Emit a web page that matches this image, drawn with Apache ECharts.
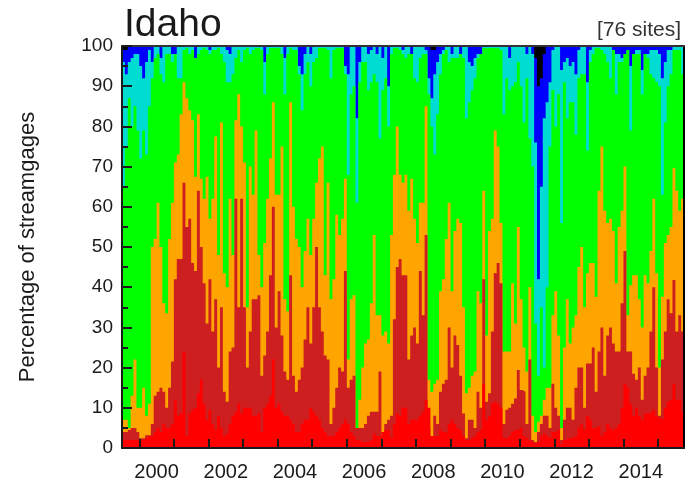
<!DOCTYPE html>
<html><head><meta charset="utf-8">
<style>html,body{margin:0;padding:0;background:#fff}#c{width:694px;height:483px}</style>
<script src="https://cdn.jsdelivr.net/npm/echarts@6/dist/echarts.min.js"></script>
</head><body><div id="c"></div>
<script>
// Percentage of streamgages at or below each class limit, monthly, Jul 1999 - Sep 2015.
const redTop = [2,2,2,2,2,2,
2,2,2.5,3,3,4,5,4,6,5,5,6,
12,8,8.6,24,3,8.6,9.5,10,13.6,17,11,7,
9.5,6,4.5,8,5,3,3.6,6,8,9,11,8.6,
10,10,10,8,8,8.6,4,10,11,13,22,10,
11,9,8,8,7,6,4,4,6,7,7,10,
9,8,7,5,4,3,3,3,4,5,6,7,
6,4,3,2,2,1.5,1.5,1.5,2,3.6,3,3,
4,4.5,4.5,2.5,6,8.6,8,10,10,6,7,7,
7,8,9,12,10,3,3,3,4.5,4,3.6,6,
7,6,5,4.5,3,2,2,2.5,3,4,4.5,16,
7,8,11,11.5,11,10,2.5,2.5,3,4,4.5,4.5,
5,3,2.5,2,1.5,1,1.5,3,3.6,3,2.5,4,
4,4.5,1,2,2.4,2.5,2.5,3,5,6,4.5,8,
7,5,5,5.5,3,4,6,5,4.5,5,6,10,
16,15,11,8,10,8,7,8.6,8.6,9,9.5,8,
7.4,7,10,11.5,12,16,12,12,9];
const brickTop = [4,4,4.5,5,5,4,
2.4,2.4,3.2,3.2,6,13,14,15,14,10,15,21.5,
42,47,47,66,55,57,46,44,64,50,41,31,
42,29,37,20,35,14,11.5,24,25,62,35,62,
35,20,29,37,37,38,18,23,29,43,60,30,
39,28,19,17,43,18,14,17,20,27,35,26,
35,50,35,29,23,22,6,10,15,20,19,44,
15,17,18,5,5,5,6,8,9,9,9,19,
3,6,7,8,32,45,47,43,43,22,28,30,
26,44,33,53,5,3,8,6,14,16,17,30,
20,28,25.6,18,8.6,2.4,7,7,5,14,10,42,
11.5,13.6,29,43.5,46,41,6,9.5,10,11,12.3,19.4,
14.4,14,6,22,2,1.5,4,6,8,8,5,16,
10,8,2,7,10,10,7,15,20,20,10,21,
21,25,14,24,30,18,28,30,26,24,24,36,
49,24,24,18.5,17,20,12,18,20,29,40,20,
8,22,29,37,33.5,41.8,29,33,29];
const orangeTop = [7,7,5,13,22,10,
10,15,8,11,50,52,61,50,36,33.5,52,61,
71,73,83,91,87,84,81.5,67.5,83,67,62,67.5,
57,62,77.5,48,81,43.5,40,62,48,81.5,88,80,
71,35,70,63,79,48,40,51,62,72,86,63,
63,75,37,34,86,60,52,50,40,49,57,48,
57,66,72,75,43,66,37,42,58,53,57,67,
22,37,38,3,12,20,26,27,36,53,33,33,
28,29,26,53,68,80,68,66,68,59,67,57,
51,61,61,85,17,14,16,17,39,42,52,61,
39,54,57,56,35,13.6,15,18,19,39,36,64,
28,54,57,79,75,56,24,24,24,41,31,55,
37,25,19,40,8,4,6.5,8,12,15,15,33,
39,28,5,25,37,26,30,33,45,50,35,43.5,
46,46,37.6,64,75,59,56,57,54,41,55,59,
70,33,40.5,43,43,37,30,43,41,49,62,43.5,
20,37.6,51,53,55,69.6,64,59,62];
const greenTop = [65,75,87,80,85,79,
72,79,73,85,92,97,98,93,91,98,98,96,
98,92,92,99,99.5,98,99,97,98,99,99.5,99,
98,99,99,99.5,98,96,91,91,93,97,99,96,
99,99.5,98,99,99.5,99.5,99,88,98,99.5,99.5,99.5,
99.5,98,88,98,99.5,99,99,93,84,93,96,90,
96,97,99.5,99.5,99.5,99,92,99,99.5,99.5,99.5,93,
68,88,90,61,91,96,96,89,91,93,91,77,
89,92,80,98,99.5,99.5,99,98,97,98,98,92,
91,97,98,98,88,80,73,83,93,98,99,96,
97,97,97,98,97,82,86,89,92,97,98,99.5,
99.5,99.5,99.5,99.5,99.5,99,83,92,89,90,91,96,
90,81,92,77,70,31,18,35,20,40,75,89,
80,88,56,91,82,86,86,78,92,93,93,74,
96,98,99.5,99.5,99,98,96,92,99,88,96,96,
98,99,79,98,98,98,88,98,97,93,92,91,
90,63,81,90,93,99,99,99,93];
const cyanTop = [96,93,96,97,98,98,
95,92,96,99,96,100,100,97,100,100,100,98,
98,100,100,100,100,100,100,97,100,100,100,100,
99,100,100,100,100,100,99,98,100,100,100,100,
100,100,100,100,100,100,100,96,100,100,100,100,
100,100,97,100,100,100,100,95,93,98,100,98,
100,100,100,100,100,100,100,100,100,100,100,95,
93,100,100,82,96,100,100,98,99,100,98,100,
97,100,90,100,100,100,100,99,100,100,98,100,
100,100,100,99,92,87,93,96,98,99,100,100,
98,100,100,98,100,100,96,95,97,98,98,100,
100,100,100,100,100,100,100,100,97,100,100,100,
100,100,98,100,98,76,42,65,82,86,91,99,
100,100,94,96,97,95,96,93,99,100,100,91,
99,100,100,100,100,100,100,100,99,98,98,97,
98,99,95,98,99,99,94,98,98,99,99,99,
98,92,96,99,99,100,100,100,100];
const blueTop = [99,99,100,100,100,100,
100,100,100,100,100,100,100,100,100,100,100,100,
100,100,100,100,100,100,100,100,100,100,100,100,
100,100,100,100,100,100,100,100,100,100,100,100,
100,100,100,100,100,100,100,100,100,100,100,100,
100,100,100,100,100,100,100,100,100,100,100,100,
100,100,100,100,100,100,100,100,100,100,100,100,
100,100,100,100,100,100,100,100,100,100,100,100,
100,100,100,100,100,100,100,100,100,100,100,100,
100,100,100,100,100,99,99,100,100,100,100,100,
100,100,100,100,100,100,100,100,100,100,100,100,
100,100,100,100,100,100,100,100,100,100,100,100,
100,100,100,100,100,97,90,92,98,100,100,100,
100,100,100,100,100,100,100,100,100,100,100,100,
100,100,100,100,100,100,100,100,100,100,100,100,
100,100,100,100,100,100,100,100,100,100,100,100,
100,100,100,100,100,100,100,100,100];
const labelYears = [2000,2002,2004,2006,2008,2010,2012,2014];
const yTicks = [0,100];

// Month categories; one closing slot so the last month keeps its width on the step line.
const months = [];
for (let y = 1999, m = 7; months.length < redTop.length + 1; m++) {
  if (m > 12) { m = 1; y++; }
  months.push(y + '-' + String(m).padStart(2, '0'));
}
const closed = a => a.concat(a[a.length - 1]);
const ink = '#1a1a1a';
const font = '"Liberation Sans", Arial, sans-serif';
const layer = (name, data, color) => ({
  name, type: 'line', step: 'end', data: closed(data), xAxisIndex: 0, yAxisIndex: 0,
  showSymbol: false, symbol: 'none', silent: true, smooth: false,
  lineStyle: { width: 0 }, areaStyle: { color, opacity: 1, origin: 'start' }, itemStyle: { color }
});

const chart = echarts.init(document.getElementById('c'), null, { renderer: 'canvas' });
chart.setOption({
  animation: false,
  backgroundColor: '#fff',
  title: [
    { text: 'Idaho', left: 119, top: 1, textStyle: { fontFamily: font, fontSize: 39, fontWeight: 'normal', color: ink } },
    { text: '[76 sites]', right: 8, top: 15, textStyle: { fontFamily: font, fontSize: 21, fontWeight: 'normal', color: '#333' } }
  ],
  grid: { left: 122, right: 10, top: 46, bottom: 35, show: true, backgroundColor: '#000', borderWidth: 0 },
  xAxis: [{
    type: 'category', data: months, boundaryGap: false, position: 'bottom', z: 10,
    axisLine: { show: true, onZero: false, lineStyle: { color: ink, width: 2 } },
    axisTick: { show: true, inside: true, length: 9, interval: (i, v) => v.endsWith('-01'), lineStyle: { color: ink, width: 2 } },
    axisLabel: {
      show: true, margin: 14, fontFamily: font, fontSize: 20, color: ink,
      interval: (i, v) => v.endsWith('-07') && labelYears.includes(+v.slice(0, 4)),
      formatter: v => v.slice(0, 4)
    },
    splitLine: { show: false }
  }, {
    type: 'category', data: months, boundaryGap: false, position: 'top', z: 10,
    axisLine: { show: true, onZero: false, lineStyle: { color: '#333', width: 2 } },
    axisTick: { show: false }, axisLabel: { show: false }, splitLine: { show: false }
  }],
  yAxis: [{
    type: 'value', min: yTicks[0], max: yTicks[1], interval: 10, position: 'left', z: 10,
    name: 'Percentage of streamgages', nameLocation: 'middle', nameRotate: 90, nameGap: 83,
    nameTextStyle: { fontFamily: font, fontSize: 22, color: ink },
    axisLine: { show: true, onZero: false, lineStyle: { color: ink, width: 2 } },
    axisTick: { show: true, inside: true, length: 10, lineStyle: { color: ink, width: 2 } },
    minorTick: { show: true, splitNumber: 2, length: 6, lineStyle: { color: ink, width: 2 } },
    axisLabel: { margin: 9, fontFamily: font, fontSize: 19, color: ink },
    splitLine: { show: false }, minorSplitLine: { show: false }
  }, {
    type: 'value', min: yTicks[0], max: yTicks[1], interval: 10, position: 'right', z: 10,
    axisLine: { show: true, onZero: false, lineStyle: { color: '#000', width: 2 } },
    axisTick: { show: false }, axisLabel: { show: false }, splitLine: { show: false }
  }],
  series: [
    layer('Blue', blueTop, '#0000ff'),
    layer('Cyan', cyanTop, '#00dcd2'),
    layer('Green', greenTop, '#00ff00'),
    layer('Orange', orangeTop, '#ffa500'),
    layer('Brick', brickTop, '#cd1f1f'),
    layer('Red', redTop, '#ff0000')
  ]
});
</script></body></html>
